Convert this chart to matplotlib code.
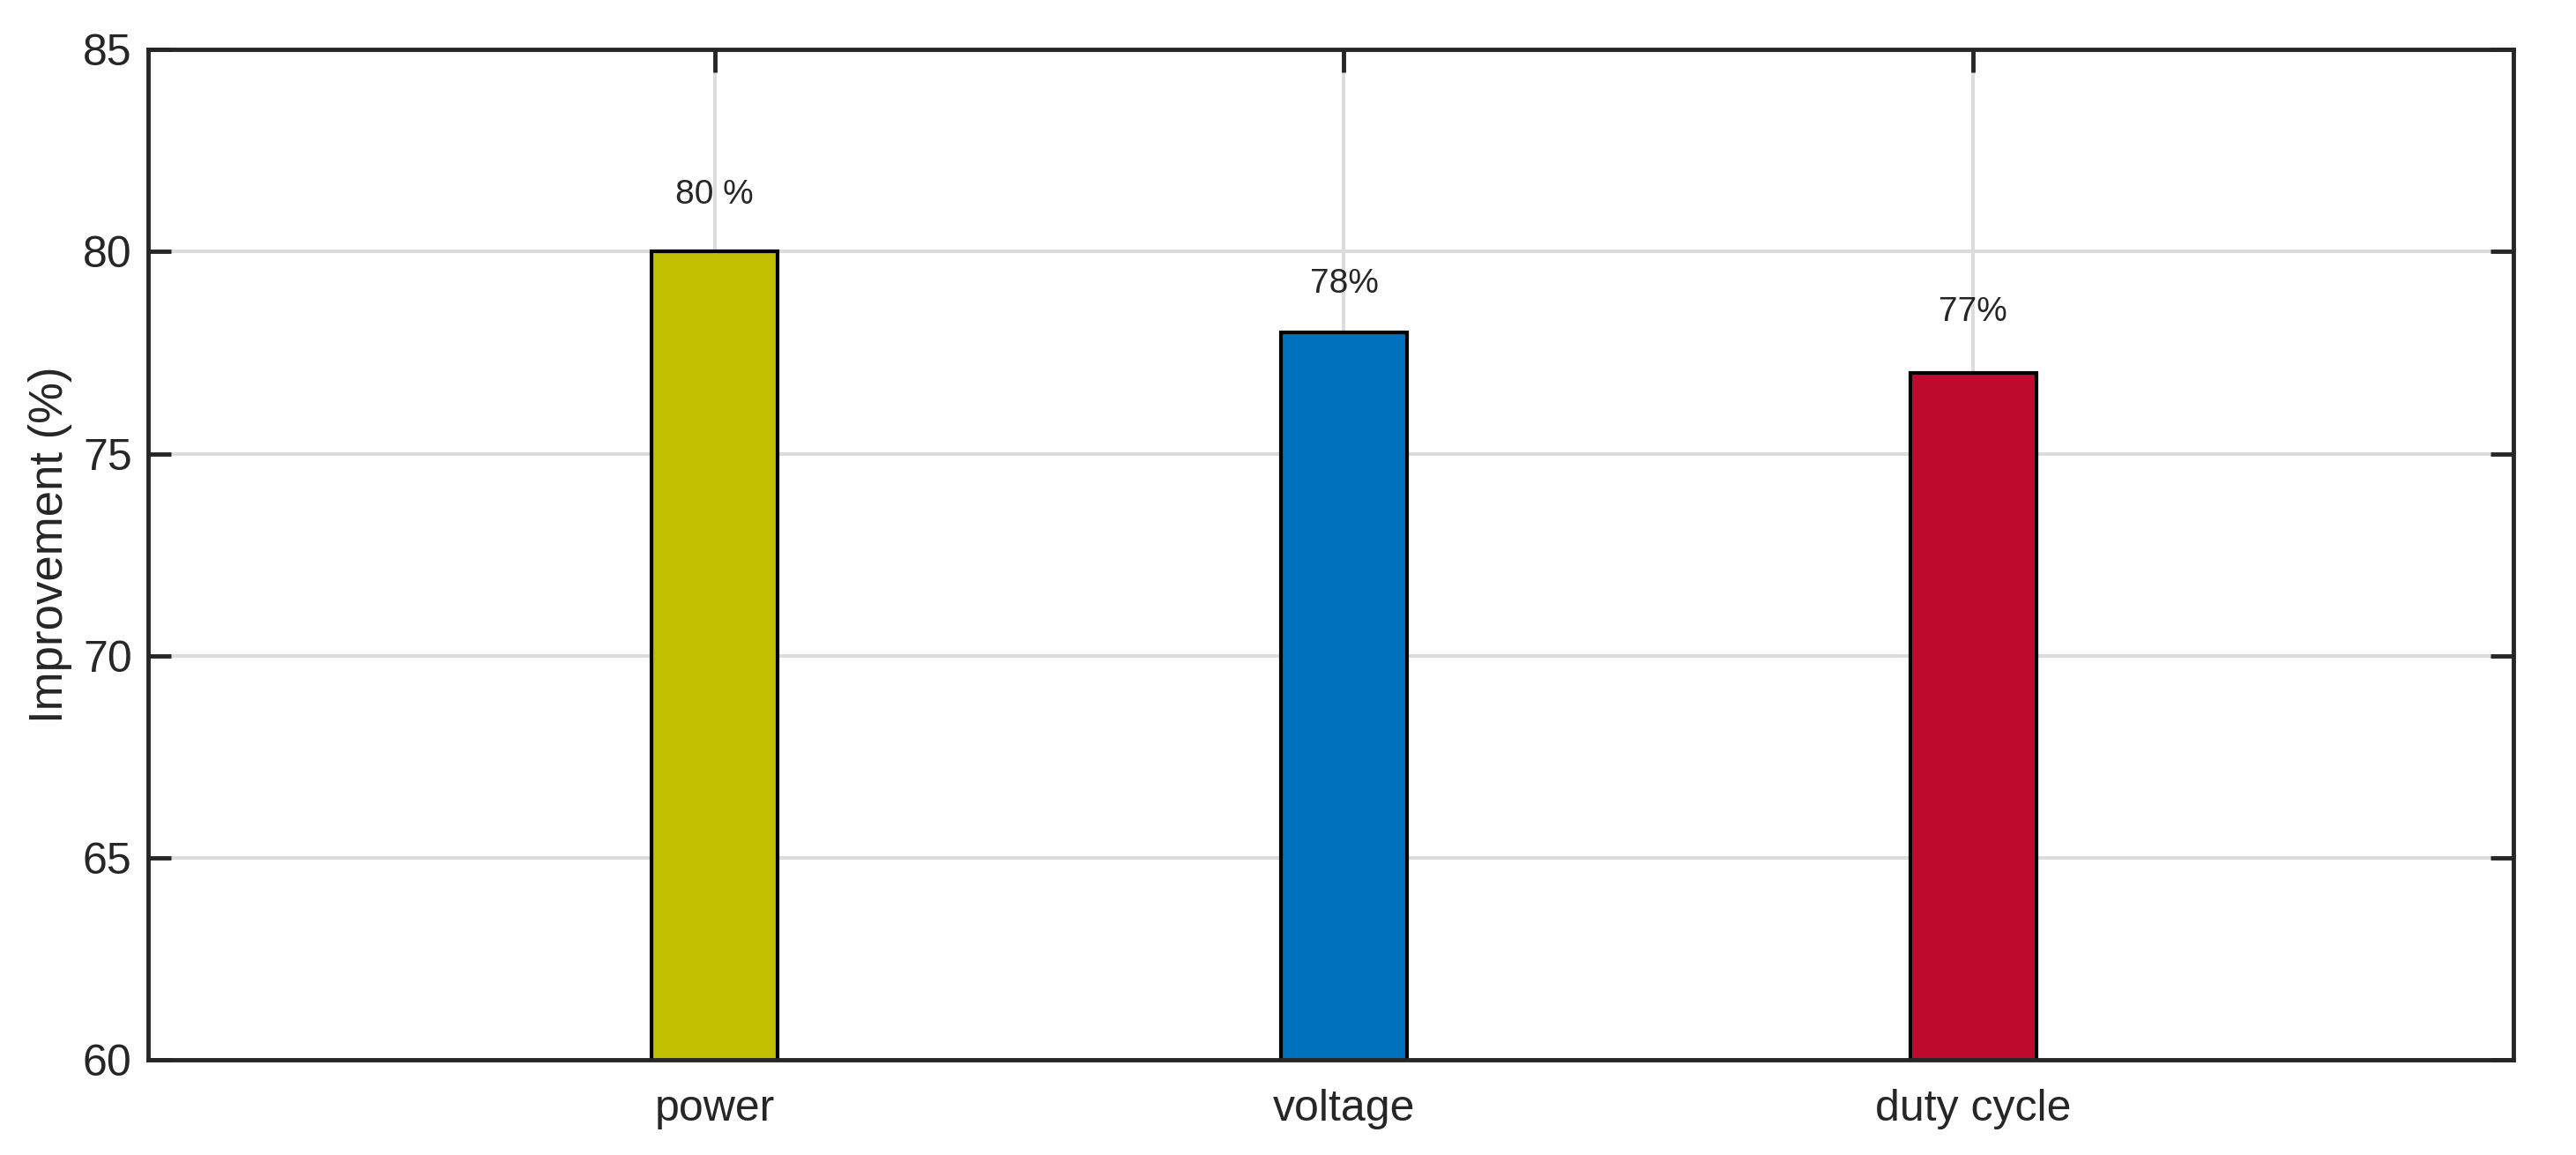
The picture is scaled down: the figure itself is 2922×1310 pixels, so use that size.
import matplotlib
matplotlib.use("Agg")
import matplotlib.pyplot as plt

# ----------------------------------------------------------------------------

categories = ["power", "voltage", "duty cycle"]
improvement = [80, 78, 77]
value_labels = ["80 %", "78%", "77%"]
label_offsets = [1.4, 1.2, 1.5]
bar_colors = ["#C0C000", "#0072BD", "#BE0B2D"]
y_ticks = [60, 65, 70, 75, 80, 85]

# ----------------------------------------------------------------------------

plt.rcParams["font.family"] = ["Liberation Sans", "DejaVu Sans"]

fig = plt.figure(figsize=(29.22, 13.10), dpi=100)
ax = fig.add_axes([0.0574, 0.0825, 0.9184, 0.8745])

x = list(range(1, len(categories) + 1))

ax.set_axisbelow(True)
ax.grid(True, color="#dcdcdc", linewidth=2.8)
ax.bar(x, improvement, width=0.2, color=bar_colors, edgecolor="black",
       linewidth=3, zorder=2)

for xi, v, lab, off in zip(x, improvement, value_labels, label_offsets):
    ax.text(xi, v + off, lab, ha="center", va="center", fontsize=28,
            color="#262626", zorder=3)

ax.set_xlim(0.099, 3.859)
ax.set_ylim(60, 85)
ax.set_xticks(x, categories)
ax.set_yticks(y_ticks)
ax.set_ylabel("Improvement (%)", fontsize=38, color="#262626")
ax.yaxis.set_label_coords(-0.032, 0.51)

ax.tick_params(axis="both", direction="in", length=19, width=3.5,
               color="#262626", labelcolor="#262626", labelsize=36,
               top=True, right=True)
ax.tick_params(axis="y", pad=13)
ax.tick_params(axis="x", pad=24)

for s in ax.spines.values():
    s.set_linewidth(3.5)
    s.set_color("#262626")
    s.set_zorder(4)

fig.savefig("out.png", dpi=100, facecolor="white")
